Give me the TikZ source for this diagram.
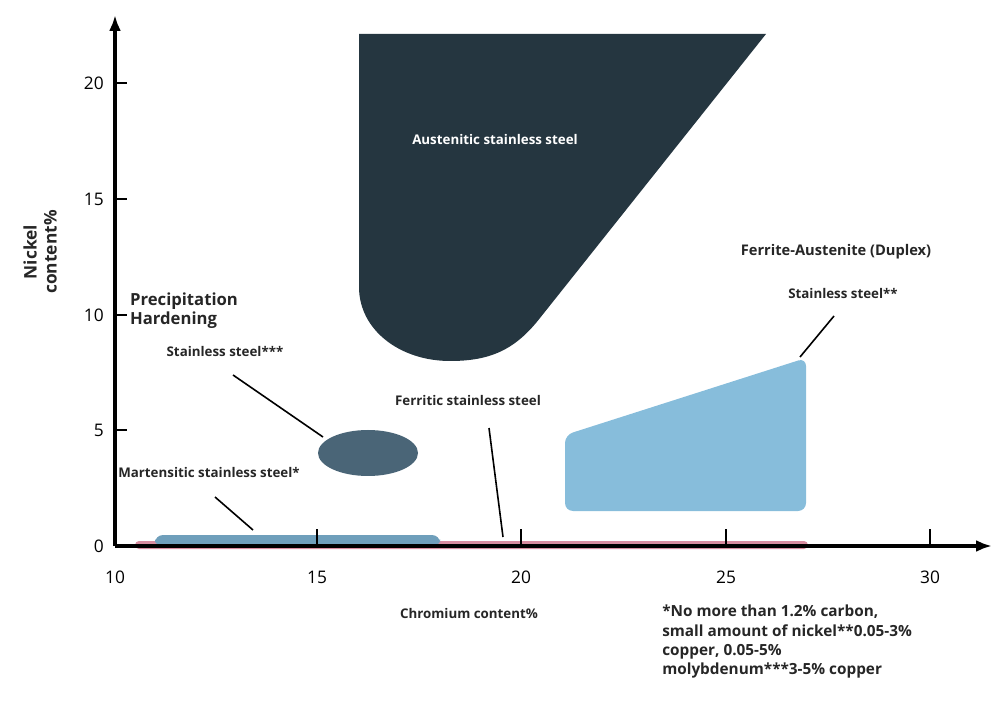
\documentclass[tikz,border=0pt]{standalone}
\usepackage{fontspec}
\setmainfont{Open Sans}
\usetikzlibrary{arrows.meta}
\begin{document}
\begin{tikzpicture}[x=0.75pt,y=-0.75pt,
  lbl/.style={font=\bfseries\fontsize{10}{12}\selectfont,text=black!85,inner sep=0pt},
  big/.style={font=\bfseries\fontsize{12.5}{14}\selectfont,text=black!85,inner sep=0pt,align=left},
  num/.style={font=\fontsize{13}{15}\selectfont,inner sep=0pt},
  lead/.style={line width=1.2pt}]
\useasboundingbox (0,0) rectangle (999,705);
\definecolor{aus}{HTML}{253640}
\definecolor{ph}{HTML}{4A6577}
\definecolor{dup}{HTML}{87BDDB}
\definecolor{mar}{HTML}{6F9FBB}
\definecolor{fer}{HTML}{D88DA0}
% regions
\fill[aus] (359,34) -- (766,34) -- (540,318) .. controls (515,350) and (490,361) .. (450,361)
  .. controls (400,361) and (359,330) .. (359,287) -- cycle;
\fill[ph] (368,453) ellipse [x radius=50, y radius=23];
\fill[dup,rounded corners=6pt] (565,435) -- (806,358) -- (806,511) -- (565,511) -- cycle;
\fill[fer,rounded corners=3pt] (135,541) rectangle (808,549);
\fill[mar,rounded corners=6pt] (155,535) rectangle (440,547);
% axes
\coordinate (o) at (115,546);
\coordinate (ytop) at (115,15);
\coordinate (xend) at (992,546);
\draw[line width=2.5pt,-{Latex[length=12pt,width=9pt]}] (o) -- (ytop);
\draw[line width=2.5pt,-{Latex[length=12pt,width=9pt]}] (o) -- (xend);
\foreach \x in {317,521,726,930} \draw[line width=1.2pt] (\x,546) -- (\x,529);
\foreach \y in {83,199,315,430} \draw[line width=1.2pt] (115,\y) -- (127,\y);
\foreach \y/\t in {83/20,199/15,315/10,430/5,546/0} \node[num,anchor=east] (y\t) at (104,\y) {\t};
\foreach \x/\t in {115/10,317/15,521/20,726/25,930/30} \node[num] (x\t) at (\x,577) {\t};
\node[lbl,font=\bfseries\fontsize{13}{15}\selectfont,rotate=90,align=center] (ylab) at (40,252) {Nickel\\content\%};
\node[lbl] (xlab) at (469,613) {Chromium content\%};
% labels
\node[lbl,text=white] (aul) at (495,140) {Austenitic stainless steel};
\node[big] (phl) at (184,311) {Precipitation\\Hardening};
\node[lbl] (phs) at (225,352) {Stainless steel***};
\node[lbl] (ferl) at (468,401) {Ferritic stainless steel};
\node[lbl] (marl) at (209,473) {Martensitic stainless steel*};
\node[lbl,font=\bfseries\fontsize{11}{13}\selectfont] (dupl) at (836,252) {Ferrite-Austenite (Duplex)};
\node[lbl] (dups) at (843,294) {Stainless steel**};
\node[big,font=\bfseries\fontsize{11.5}{14.5}\selectfont,anchor=north west] (note) at (662,605) {*No more than 1.2\% carbon,\\small amount of nickel**0.05-3\%\\copper, 0.05-5\%\\molybdenum***3-5\% copper};
% leaders
\coordinate (a1) at (233,375); \coordinate (a2) at (323,437);
\coordinate (b1) at (215,497); \coordinate (b2) at (253,530);
\coordinate (c1) at (489,428); \coordinate (c2) at (503,537);
\coordinate (d1) at (834,316); \coordinate (d2) at (800,357);
\draw[lead] (a1) -- (a2); \draw[lead] (b1) -- (b2);
\draw[lead] (c1) -- (c2); \draw[lead] (d1) -- (d2);
\end{tikzpicture}
\end{document}
